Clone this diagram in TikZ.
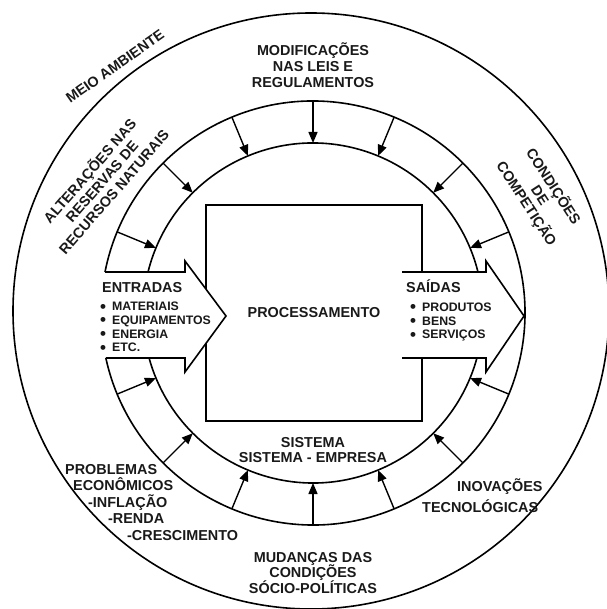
\documentclass[tikz,border=0pt]{standalone}
\usepackage{fontspec}
\setmainfont{Liberation Sans}
\usetikzlibrary{arrows.meta,positioning}
\newcommand{\bigdot}{\makebox[12pt][l]{\raisebox{-1.6pt}{\fontsize{17}{0}\selectfont\textbullet}}}
\tikzset{
    >={Triangle[length=11pt,width=9pt]},
    ring/.style={draw=black, line width=1.6pt},
    influx/.style={draw=black, line width=1.4pt, ->},
    bigarrow/.style={draw=black, line width=1.6pt, line join=miter},
    heading/.style={
        font=\fontsize{14.4}{16}\selectfont\bfseries,
        text=black!90,
        inner sep=0pt,
        align=center
    },
    itemlist/.style={
        font=\fontsize{12.3}{13.8}\selectfont\bfseries,
        text=black!90,
        inner sep=0pt,
        align=left
    }
}
\begin{document}
\begin{tikzpicture}[x=1pt, y=1pt]
                            \useasboundingbox (-313,-296) rectangle (293,313);
                            \draw[ring] (-2,2) circle[radius=298pt];
                            \draw[ring] (168.85:212pt) arc[start angle=168.85, end angle=-167.75, radius=212pt];
                            \draw[ring] (166.05:170pt) arc[start angle=166.05, end angle=13.95, radius=170pt];
                            \draw[ring] (-15.35:170pt) arc[start angle=-15.35, end angle=-164.65, radius=170pt];
                            \node[draw, line width=1.6pt, minimum width=216pt, minimum height=216pt, inner sep=0pt,
                                  font=\fontsize{14.4}{16}\selectfont\bfseries, text=black!90] (proc) at (1,0) {PROCESSAMENTO};
                            \fill[white] (168.85:212pt) -- (-128,41) -- (-128,52) -- (-87,-3) -- (-128,-59) -- (-128,-45) -- (192.25:212pt) -- cycle;
                            \draw[bigarrow] (168.85:212pt) -- (-128,41) -- (-128,52) -- (-87,-3) -- (-128,-59) -- (-128,-45) -- (192.25:212pt);
                            \fill[white] (89,41) -- (173,41) -- (173,52) -- (211,-3) -- (173,-59) -- (173,-45) -- (89,-45) -- cycle;
                            \draw[bigarrow] (89,41) -- (173,41) -- (173,52) -- (211,-3) -- (173,-59) -- (173,-45) -- (89,-45);
                            \foreach \k in {1,2,3,4,5,6,7,9,10,11,12,13,14,15} {
                                \coordinate (out\k) at (22.5*\k:212pt);
                                \coordinate (in\k) at (22.5*\k:170pt);
                                \draw[influx] (out\k) -- (in\k);
                            }
                            \node[heading, rotate=35] (meio) at (-198,246.5) {MEIO AMBIENTE};
                            \node[heading, anchor=base] (leis) at (0,225) {MODIFICAÇÕES\\NAS LEIS E\\REGULAMENTOS};
                            \node[heading, rotate=49] (recursos) at (-212,132) {ALTERAÇÕES NAS\\RESERVAS DE\\RECURSOS NATURAIS};
                            \node[heading, rotate=-57] (competicao) at (227,118) {CONDIÇÕES\\DE\\COMPETIÇÃO};
                            \node[heading, anchor=base west] (entradas) at (-211,20) {ENTRADAS};
                            \node[itemlist, anchor=base west] (insumos) at (-213,-39) {\bigdot MATERIAIS\\\bigdot EQUIPAMENTOS\\\bigdot ENERGIA\\\bigdot ETC.};
                            \node[heading, anchor=base west] (saidas) at (93,20) {SAÍDAS};
                            \node[itemlist, anchor=base west] (produtos) at (97,-26) {\bigdot PRODUTOS\\\bigdot BENS\\\bigdot SERVIÇOS};
                            \node[heading, anchor=base] (sistema) at (0,-149) {SISTEMA\\[-1pt]SISTEMA - EMPRESA};
                            \node[heading, anchor=base west, align=left] (economia) at (-248,-227)
                                {PROBLEMAS\\[0.5pt]\hspace*{8pt}ECONÔMICOS\\[0.5pt]\hspace*{23pt}-INFLAÇÃO\\[0.5pt]\hspace*{43pt}-RENDA\\[0.5pt]\hspace*{62pt}-CRESCIMENTO};
                            \node[heading, anchor=base west, align=left] (inovacoes) at (109,-199) {\hspace*{35pt}INOVAÇÕES\\[5pt]TECNOLÓGICAS};
                            \node[heading, anchor=base] (mudancas) at (0,-280) {MUDANÇAS DAS\\[-0.5pt]CONDIÇÕES\\[-0.5pt]SÓCIO-POLÍTICAS};
                        \end{tikzpicture}
\end{document}
